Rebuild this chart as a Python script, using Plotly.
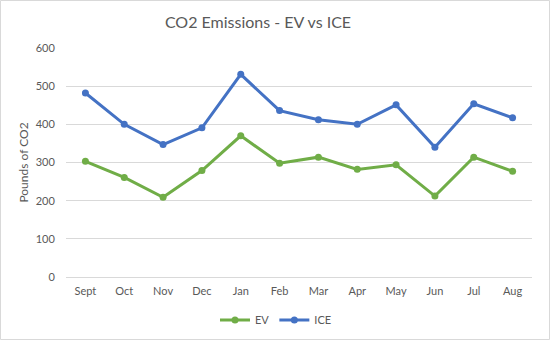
import plotly.graph_objects as go

months = ["Sept", "Oct", "Nov", "Dec", "Jan", "Feb", "Mar", "Apr", "May", "Jun", "Jul", "Aug"]
ev = [303, 261, 209, 279, 370, 298, 314, 282, 294, 212, 314, 277]
ice = [482, 400, 347, 391, 531, 436, 412, 400, 451, 340, 454, 417]
y_ticks = [0, 100, 200, 300, 400, 500, 600]

FONT = "Lato, Open Sans, sans-serif"
GRAY = "#595959"

fig = go.Figure()
fig.add_trace(go.Scatter(x=months, y=ev, name="EV", mode="lines+markers",
                         line=dict(color="#70AD47", width=3),
                         marker=dict(color="#70AD47", size=7)))
fig.add_trace(go.Scatter(x=months, y=ice, name="ICE", mode="lines+markers",
                         line=dict(color="#4472C4", width=3),
                         marker=dict(color="#4472C4", size=7)))

L, R, T, B = 66, 18, 48, 63
W, H = 550, 340
pw, ph = W - L - R, H - T - B

fig.update_layout(
    width=W, height=H,
    margin=dict(l=L, r=R, t=T, b=B, autoexpand=False),
    paper_bgcolor="white", plot_bgcolor="white",
    font=dict(family=FONT, size=11, color=GRAY),
    title=dict(text="CO2 Emissions - EV vs ICE", x=258 / W, xanchor="center",
               y=1 - 22 / H, yanchor="middle", xref="container", yref="container",
               font=dict(family=FONT, size=16, color=GRAY)),
    showlegend=True,
    legend=dict(orientation="h", x=(276 - L) / pw, xanchor="center",
                y=(277 - 320) / ph, yanchor="middle",
                font=dict(family=FONT, size=11, color=GRAY),
                itemwidth=30, traceorder="normal"),
    xaxis=dict(range=[-0.5, len(months) - 0.5], showgrid=False, showline=True,
               linecolor="#D9D9D9", linewidth=1,
               ticks="outside", ticklen=4, tickcolor="rgba(0,0,0,0)",
               tickfont=dict(size=11, color=GRAY), automargin=False),
    yaxis=dict(range=[0, 600], tickvals=y_ticks, showgrid=True, gridcolor="#D9D9D9",
               gridwidth=1, zeroline=False, showline=False,
               ticks="outside", ticklen=8, tickcolor="rgba(0,0,0,0)",
               tickfont=dict(size=11, color=GRAY), automargin=False,
               title=dict(text="Pounds of CO2", font=dict(size=12, color=GRAY), standoff=4)),
)

fig.add_shape(type="rect", xref="paper", yref="paper",
              x0=(0.5 - L) / pw, x1=(W - 0.5 - L) / pw,
              y0=-(B - 0.5) / ph,
              y1=1 + (T - 0.5) / ph,
              line=dict(color="#D9D9D9", width=1), layer="below")

fig.write_html("out.html")
